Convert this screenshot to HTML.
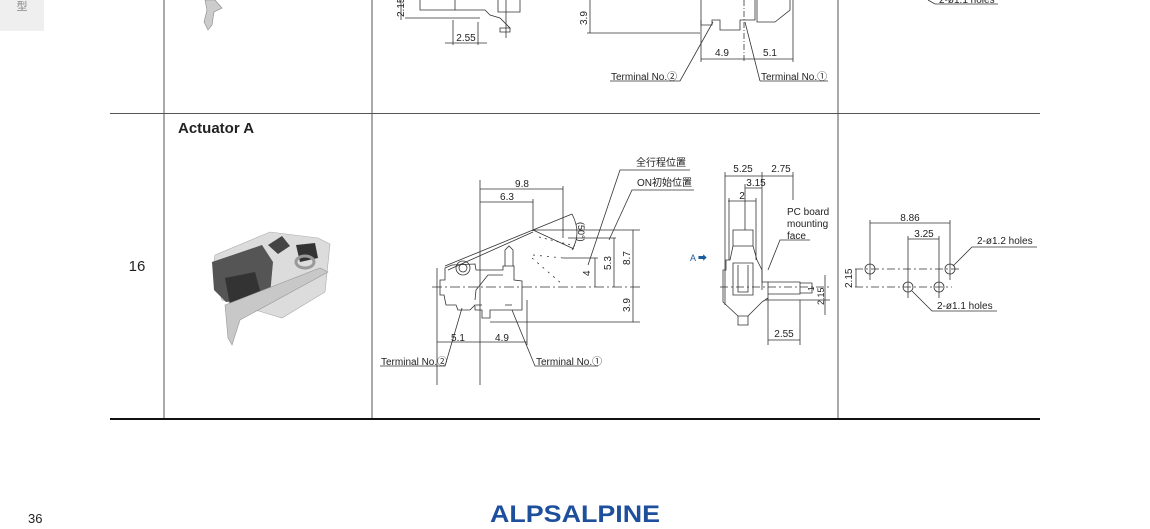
<!DOCTYPE html>
<html><head><meta charset="utf-8"><style>
html,body{margin:0;padding:0;background:#fff;width:1150px;height:529px;overflow:hidden}
svg{display:block}
text{font-family:"Liberation Sans","Noto Sans CJK JP",sans-serif;fill:#222}
</style></head><body>
<svg width="1150" height="529" viewBox="0 0 1150 529" xmlns="http://www.w3.org/2000/svg">
<rect x="0" y="0" width="44" height="31" fill="#efefef"/>
<text x="22" y="10" font-size="11" fill="#888" text-anchor="middle" style="fill:#888">型</text>
<!-- table -->
<g stroke="#555" stroke-width="1">
<line x1="164" y1="0" x2="164" y2="419"/>
<line x1="372" y1="0" x2="372" y2="419"/>
<line x1="838" y1="0" x2="838" y2="419"/>
<line x1="110" y1="113.5" x2="1040" y2="113.5"/>
</g>
<line x1="110" y1="419" x2="1040" y2="419" stroke="#111" stroke-width="2"/>
<text x="178" y="133" font-size="15" font-weight="bold" style="fill:#222">Actuator A</text>
<text x="137" y="271" font-size="15" text-anchor="middle">16</text>

<!-- top partial photo -->
<path d="M205 0 L215 0 L222 8 L214 12 L212 25 L208 30 L204 22 L207 10Z" fill="#ccc" stroke="#888" stroke-width="0.6"/>

<!-- top drawings -->
<g stroke="#333" stroke-width="0.8" fill="none">
<line x1="405" y1="18" x2="480" y2="18"/>
<path d="M420 0 L420 10 L455 10 L455 0"/>
<path d="M455 10 L485 10 L490 15 L500 18 L510 28 L500 28 L500 32 L510 32 L510 28"/>
<path d="M498 0 L498 12 L520 12 L520 0"/>
<line x1="401" y1="0" x2="401" y2="20"/>
<line x1="453" y1="20" x2="453" y2="45"/>
<line x1="478" y1="22" x2="478" y2="45"/>
<line x1="445" y1="43" x2="487" y2="43"/>
<line x1="506" y1="0" x2="506" y2="38"/>
<line x1="587" y1="33" x2="700" y2="33"/>
<line x1="590" y1="0" x2="590" y2="33"/>
<path d="M701 0 L701 25 L712 25 L712 20 L720 20 L720 30 L740 30 L740 20 L755 20 L755 0"/>
<path d="M757 0 L757 22 L775 22 L790 10 L790 0"/>
<line x1="701" y1="20" x2="701" y2="62"/>
<line x1="744" y1="0" x2="744" y2="62" stroke-dasharray="6 2 1 2"/>
<line x1="793" y1="0" x2="793" y2="62"/>
<line x1="701" y1="59" x2="793" y2="59"/>
<path d="M610 81 L680 81 L713 22"/>
<path d="M760 81 L745 22"/>
<line x1="760" y1="81" x2="828" y2="81"/>
<line x1="935" y1="4" x2="998" y2="4"/>
<line x1="928" y1="0" x2="935" y2="4"/>
</g>
<text x="404" y="17" font-size="10" transform="rotate(-90 404 17)">2.15</text>
<text x="466" y="41" font-size="10" text-anchor="middle">2.55</text>
<text x="587" y="25" font-size="10" transform="rotate(-90 587 25)">3.9</text>
<text x="722" y="56" font-size="10" text-anchor="middle">4.9</text>
<text x="770" y="56" font-size="10" text-anchor="middle">5.1</text>
<text x="611" y="80" font-size="10">Terminal No.②</text>
<text x="761" y="80" font-size="10">Terminal No.①</text>
<text x="939" y="3" font-size="10">2-ø1.1 holes</text>

<!-- photo -->
<g>
<path d="M215 255 L270 232 L318 238 L330 244 L325 292 L282 318 L262 312 L222 300 L213 268Z" fill="#dcdcdc" stroke="#aaa" stroke-width="0.6"/>
<path d="M212 262 L262 245 L273 262 L270 295 L226 302 L214 290Z" fill="#555"/>
<path d="M225 278 L255 272 L262 298 L230 305Z" fill="#333"/>
<path d="M296 245 L315 243 L318 258 L300 262Z" fill="#333"/>
<ellipse cx="305" cy="262" rx="9" ry="6" fill="none" stroke="#999" stroke-width="3"/>
<path d="M225 305 L320 268 L328 272 L240 320 L232 345 L228 338Z" fill="#c8c8c8" stroke="#999" stroke-width="0.6"/>
<path d="M268 245 L282 236 L290 246 L278 254Z" fill="#444"/>
</g>

<!-- main middle drawing -->
<g stroke="#333" stroke-width="0.8" fill="none">
<line x1="432" y1="287" x2="640" y2="287" stroke-dasharray="10 3 2 3"/>
<line x1="480" y1="180" x2="480" y2="385"/>
<line x1="437" y1="268" x2="437" y2="385"/>
<line x1="527" y1="300" x2="527" y2="345"/>
<line x1="480" y1="189" x2="563" y2="189"/>
<line x1="563" y1="186" x2="563" y2="238"/>
<line x1="480" y1="202" x2="533" y2="202"/>
<line x1="533" y1="199" x2="533" y2="231"/>
<line x1="437" y1="342" x2="527" y2="342"/>
<path d="M445 268 L452 265 L475 264 L476 270 L503 270 L503 266 L514 266 L514 280 L522 281 L522 310 L490 310 L490 318 L482 318 L482 310 L475 310 L475 305 L470 310 L458 310 L456 305 L446 305 L444 295 L440 295 L440 280 L445 280Z"/>
<path d="M475 300 L476 290 L488 275 L503 275"/>
<circle cx="463" cy="268" r="7"/>
<circle cx="463" cy="268" r="4"/>
<path d="M505 266 L505 250 L509 246 L513 250 L513 266"/>
<line x1="476" y1="305" x2="482" y2="305"/><line x1="505" y1="305" x2="512" y2="305"/>
<line x1="445" y1="266" x2="572" y2="214"/>
<line x1="448" y1="270" x2="533" y2="232"/>
<line x1="533" y1="230" x2="574" y2="249"/>
<line x1="539" y1="237" x2="575" y2="246" stroke-dasharray="2 4"/>
<line x1="532" y1="258" x2="562" y2="284" stroke-dasharray="2 5"/>
<line x1="533" y1="255" x2="563" y2="258" stroke-dasharray="2 5"/>
<path d="M572 214 Q582 233 572 250"/>
<line x1="533" y1="230" x2="640" y2="230"/>
<line x1="568" y1="238" x2="616" y2="238"/>
<line x1="563" y1="258" x2="598" y2="258"/>
<line x1="633" y1="230" x2="633" y2="322"/>
<line x1="614" y1="238" x2="614" y2="287"/>
<line x1="595" y1="258" x2="595" y2="287"/>
<line x1="490" y1="322" x2="640" y2="322"/>
<path d="M588 265 L620 170 L690 170"/>
<path d="M609 240 L632 190 L694 190"/>
<path d="M380 366 L445 366 L462 308"/>
<path d="M512 310 L535 366 L598 366"/>
</g>
<text x="522" y="187" font-size="10" text-anchor="middle">9.8</text>
<text x="507" y="200" font-size="10" text-anchor="middle">6.3</text>
<text x="458" y="341" font-size="10" text-anchor="middle">5.1</text>
<text x="502" y="341" font-size="10" text-anchor="middle">4.9</text>
<text x="578" y="222" font-size="9" transform="rotate(90 578 222)">(50°)</text>
<text x="590" y="276" font-size="10" transform="rotate(-90 590 276)">4</text>
<text x="611" y="270" font-size="10" transform="rotate(-90 611 270)">5.3</text>
<text x="630" y="265" font-size="10" transform="rotate(-90 630 265)">8.7</text>
<text x="630" y="312" font-size="10" transform="rotate(-90 630 312)">3.9</text>
<text x="636" y="166" font-size="10">全行程位置</text>
<text x="637" y="186" font-size="10">ON初始位置</text>
<text x="381" y="365" font-size="10">Terminal No.②</text>
<text x="536" y="365" font-size="10">Terminal No.①</text>

<!-- side view -->
<text x="690" y="261" font-size="9" style="fill:#1a5aa0">A ➡</text>
<g stroke="#333" stroke-width="0.8" fill="none">
<line x1="725" y1="172" x2="725" y2="305"/>
<line x1="793" y1="172" x2="793" y2="200"/>
<line x1="762" y1="172" x2="762" y2="290"/>
<line x1="725" y1="176" x2="793" y2="176"/>
<line x1="745" y1="188" x2="762" y2="188"/>
<line x1="745" y1="184" x2="745" y2="230"/>
<line x1="728" y1="201" x2="756" y2="201"/>
<line x1="729" y1="198" x2="729" y2="260"/>
<line x1="756" y1="198" x2="756" y2="260"/>
<path d="M733 230 L753 230 L753 246 L733 246Z"/>
<path d="M733 246 L730 260 L726 260 L726 270 L723 270 L723 302 L738 316 L748 316 L762 302 L768 298 L768 282 L762 282 L762 270 L757 260 L753 246"/>
<path d="M733 263 L733 295 L753 295 L753 263Z"/>
<path d="M738 265 L738 292 L748 292 L748 265"/>
<path d="M768 282 L800 282 L800 294 L768 294"/>
<path d="M800 283 L812 283 L812 293 L800 293"/>
<path d="M738 316 L738 325 L748 325 L748 316"/>
<line x1="720" y1="287" x2="830" y2="287" stroke-dasharray="8 3 2 3"/>
<line x1="765" y1="300" x2="830" y2="300"/>
<line x1="768" y1="298" x2="768" y2="345"/>
<line x1="800" y1="300" x2="800" y2="345"/>
<line x1="768" y1="340" x2="800" y2="340"/>
<line x1="825" y1="275" x2="825" y2="315"/>
<path d="M768 270 L780 240 L810 240"/>
</g>
<text x="743" y="172" font-size="10" text-anchor="middle">5.25</text>
<text x="781" y="172" font-size="10" text-anchor="middle">2.75</text>
<text x="756" y="186" font-size="10" text-anchor="middle">3.15</text>
<text x="742" y="199" font-size="10" text-anchor="middle">2</text>
<text x="787" y="215" font-size="10">PC board</text>
<text x="787" y="227" font-size="10">mounting</text>
<text x="787" y="239" font-size="10">face</text>
<text x="784" y="337" font-size="10" text-anchor="middle">2.55</text>
<text x="814" y="291" font-size="8" transform="rotate(-90 814 291)">1</text>
<text x="824" y="305" font-size="9" transform="rotate(-90 824 305)">2.15</text>

<!-- holes -->
<g stroke="#333" stroke-width="0.8" fill="none">
<line x1="870" y1="220" x2="870" y2="280"/>
<line x1="950" y1="220" x2="950" y2="280"/>
<line x1="908" y1="236" x2="908" y2="298"/>
<line x1="939" y1="236" x2="939" y2="298"/>
<line x1="870" y1="223" x2="950" y2="223"/>
<line x1="908" y1="239" x2="939" y2="239"/>
<line x1="855" y1="269" x2="962" y2="269" stroke-dasharray="8 3 2 3"/>
<line x1="855" y1="287" x2="952" y2="287" stroke-dasharray="8 3 2 3"/>
<line x1="856" y1="269" x2="856" y2="287"/>
<circle cx="870" cy="269" r="5"/><circle cx="950" cy="269" r="5"/>
<circle cx="908" cy="287" r="5"/><circle cx="939" cy="287" r="5"/>
<path d="M953 266 L972 247 L1037 247"/>
<path d="M912 291 L932 311 L997 311"/>
</g>
<text x="910" y="221" font-size="10" text-anchor="middle">8.86</text>
<text x="924" y="237" font-size="10" text-anchor="middle">3.25</text>
<text x="852" y="288" font-size="10" transform="rotate(-90 852 288)">2.15</text>
<text x="977" y="244" font-size="10">2-ø1.2 holes</text>
<text x="937" y="309" font-size="10">2-ø1.1 holes</text>

<text x="28" y="523" font-size="13">36</text>
<text x="490" y="522" font-size="24" font-weight="bold" style="fill:#1d4f9c" textLength="170" lengthAdjust="spacingAndGlyphs">ALPSALPINE</text>
</svg>
</body></html>
